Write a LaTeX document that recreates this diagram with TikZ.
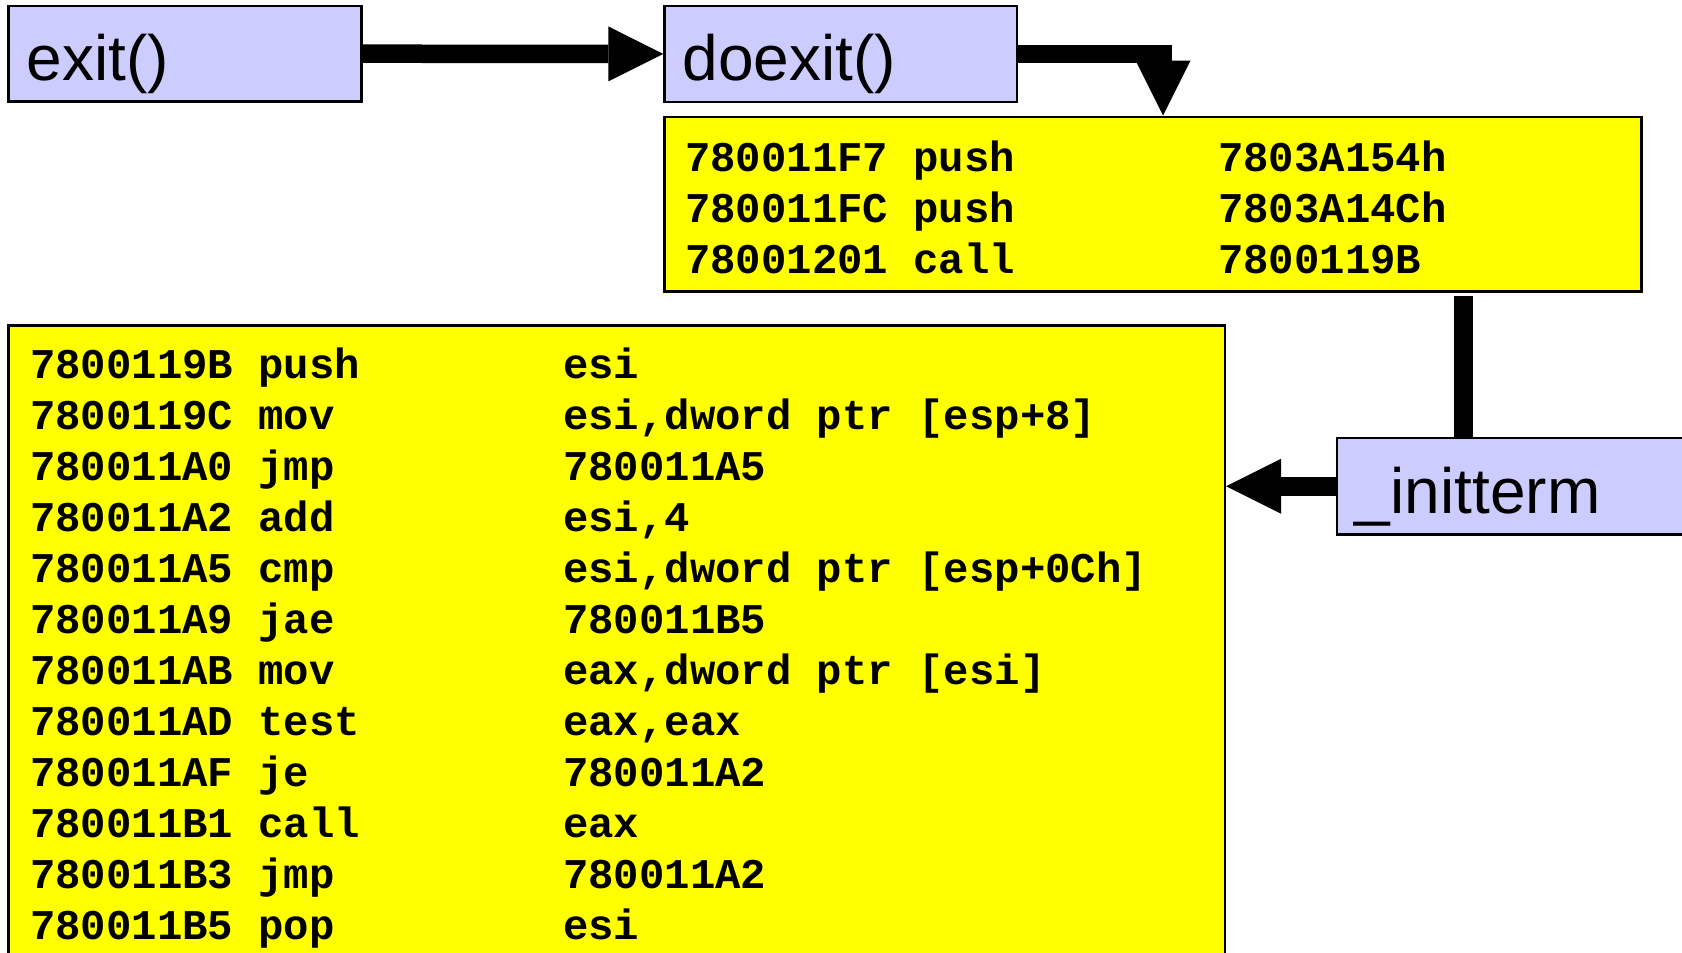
\documentclass[tikz,border=0pt]{standalone}
\usepackage{fontspec}
\setmainfont{Liberation Sans}
\newfontfamily\codefont{Liberation Mono}[BoldFont={Liberation Mono Bold}]
\usetikzlibrary{arrows.meta}

\definecolor{lav}{HTML}{CCCCFF}
\definecolor{codebg}{HTML}{FFFF00}

% one line of disassembly: address, mnemonic, operands in fixed columns
\newcommand\asmline[3]{\hbox{\makebox[228.4pt][l]{#1}\makebox[304.6pt][l]{#2}#3}}

\tikzset{
  funcbox/.style={draw=black, line width=2.5pt, fill=lav, rectangle,
    anchor=north west, inner ysep=0pt, inner xsep=18pt, align=left,
    text height=54pt, text depth=0pt, font=\fontsize{64}{70}\selectfont},
  codebox/.style={draw=black, line width=2.5pt, fill=codebg, rectangle,
    anchor=north west, inner sep=0pt},
  codetext/.style={anchor=base west, inner sep=0pt,
    font=\codefont\bfseries\fontsize{42.3}{51}\selectfont},
  bigarrow/.style={draw=black, line width=18.5pt,
    -{Triangle[length=55pt,width=55pt,line width=0pt]}},
  bigline/.style={draw=black, line width=19pt},
}

\begin{document}
\begin{tikzpicture}[x=1pt,y=-1pt]
\useasboundingbox (0,0) rectangle (1682,953);
\clip (0,0) rectangle (1682,953);

% call chain boxes
\node[funcbox, minimum width=352.7pt, minimum height=95.5pt, text width=316.7pt]
  (exit) at (7.3,4.7) {exit()};
\node[funcbox, minimum width=352.4pt, minimum height=96pt, text width=316.4pt]
  (doexit) at (663.3,4.7) {doexit()};
\node[funcbox, minimum width=384.3pt, minimum height=96.6pt, text width=348.3pt]
  (initterm) at (1335.7,436.7) {\_initterm};

% disassembly of doexit()
\node[codebox, minimum width=976.7pt, minimum height=174.5pt] (doexitcode) at (663.3,115.5) {};
\node[codetext] (doexitasm) at (685,171.3) {\vtop{\baselineskip=51pt
  \asmline{780011F7}{push}{7803A154h}
  \asmline{780011FC}{push}{7803A14Ch}
  \asmline{78001201}{call}{7800119B}}};

% disassembly of _initterm
\node[codebox, minimum width=1216.4pt, minimum height=700pt] (inittermcode) at (7.3,324.3) {};
\node[codetext] (inittermasm) at (30,378.3) {\vtop{\baselineskip=51pt
  \asmline{7800119B}{push}{esi}
  \asmline{7800119C}{mov}{esi,dword ptr [esp+8]}
  \asmline{780011A0}{jmp}{780011A5}
  \asmline{780011A2}{add}{esi,4}
  \asmline{780011A5}{cmp}{esi,dword ptr [esp+0Ch]}
  \asmline{780011A9}{jae}{780011B5}
  \asmline{780011AB}{mov}{eax,dword ptr [esi]}
  \asmline{780011AD}{test}{eax,eax}
  \asmline{780011AF}{je}{780011A2}
  \asmline{780011B1}{call}{eax}
  \asmline{780011B3}{jmp}{780011A2}
  \asmline{780011B5}{pop}{esi}}};

% connectors
\coordinate (drop) at (1163,0);
\coordinate (riser) at (1463.8,0);
\draw[bigarrow] (exit.east) -- (doexit.west);
\draw[bigarrow] (doexit.east) -| (doexitcode.north -| drop);
\draw[bigline] ([yshift=-3pt]doexitcode.south -| riser) -- (initterm.north -| riser);
\draw[bigarrow] (initterm.west) -- (initterm.west -| inittermcode.east);
\end{tikzpicture}
\end{document}
